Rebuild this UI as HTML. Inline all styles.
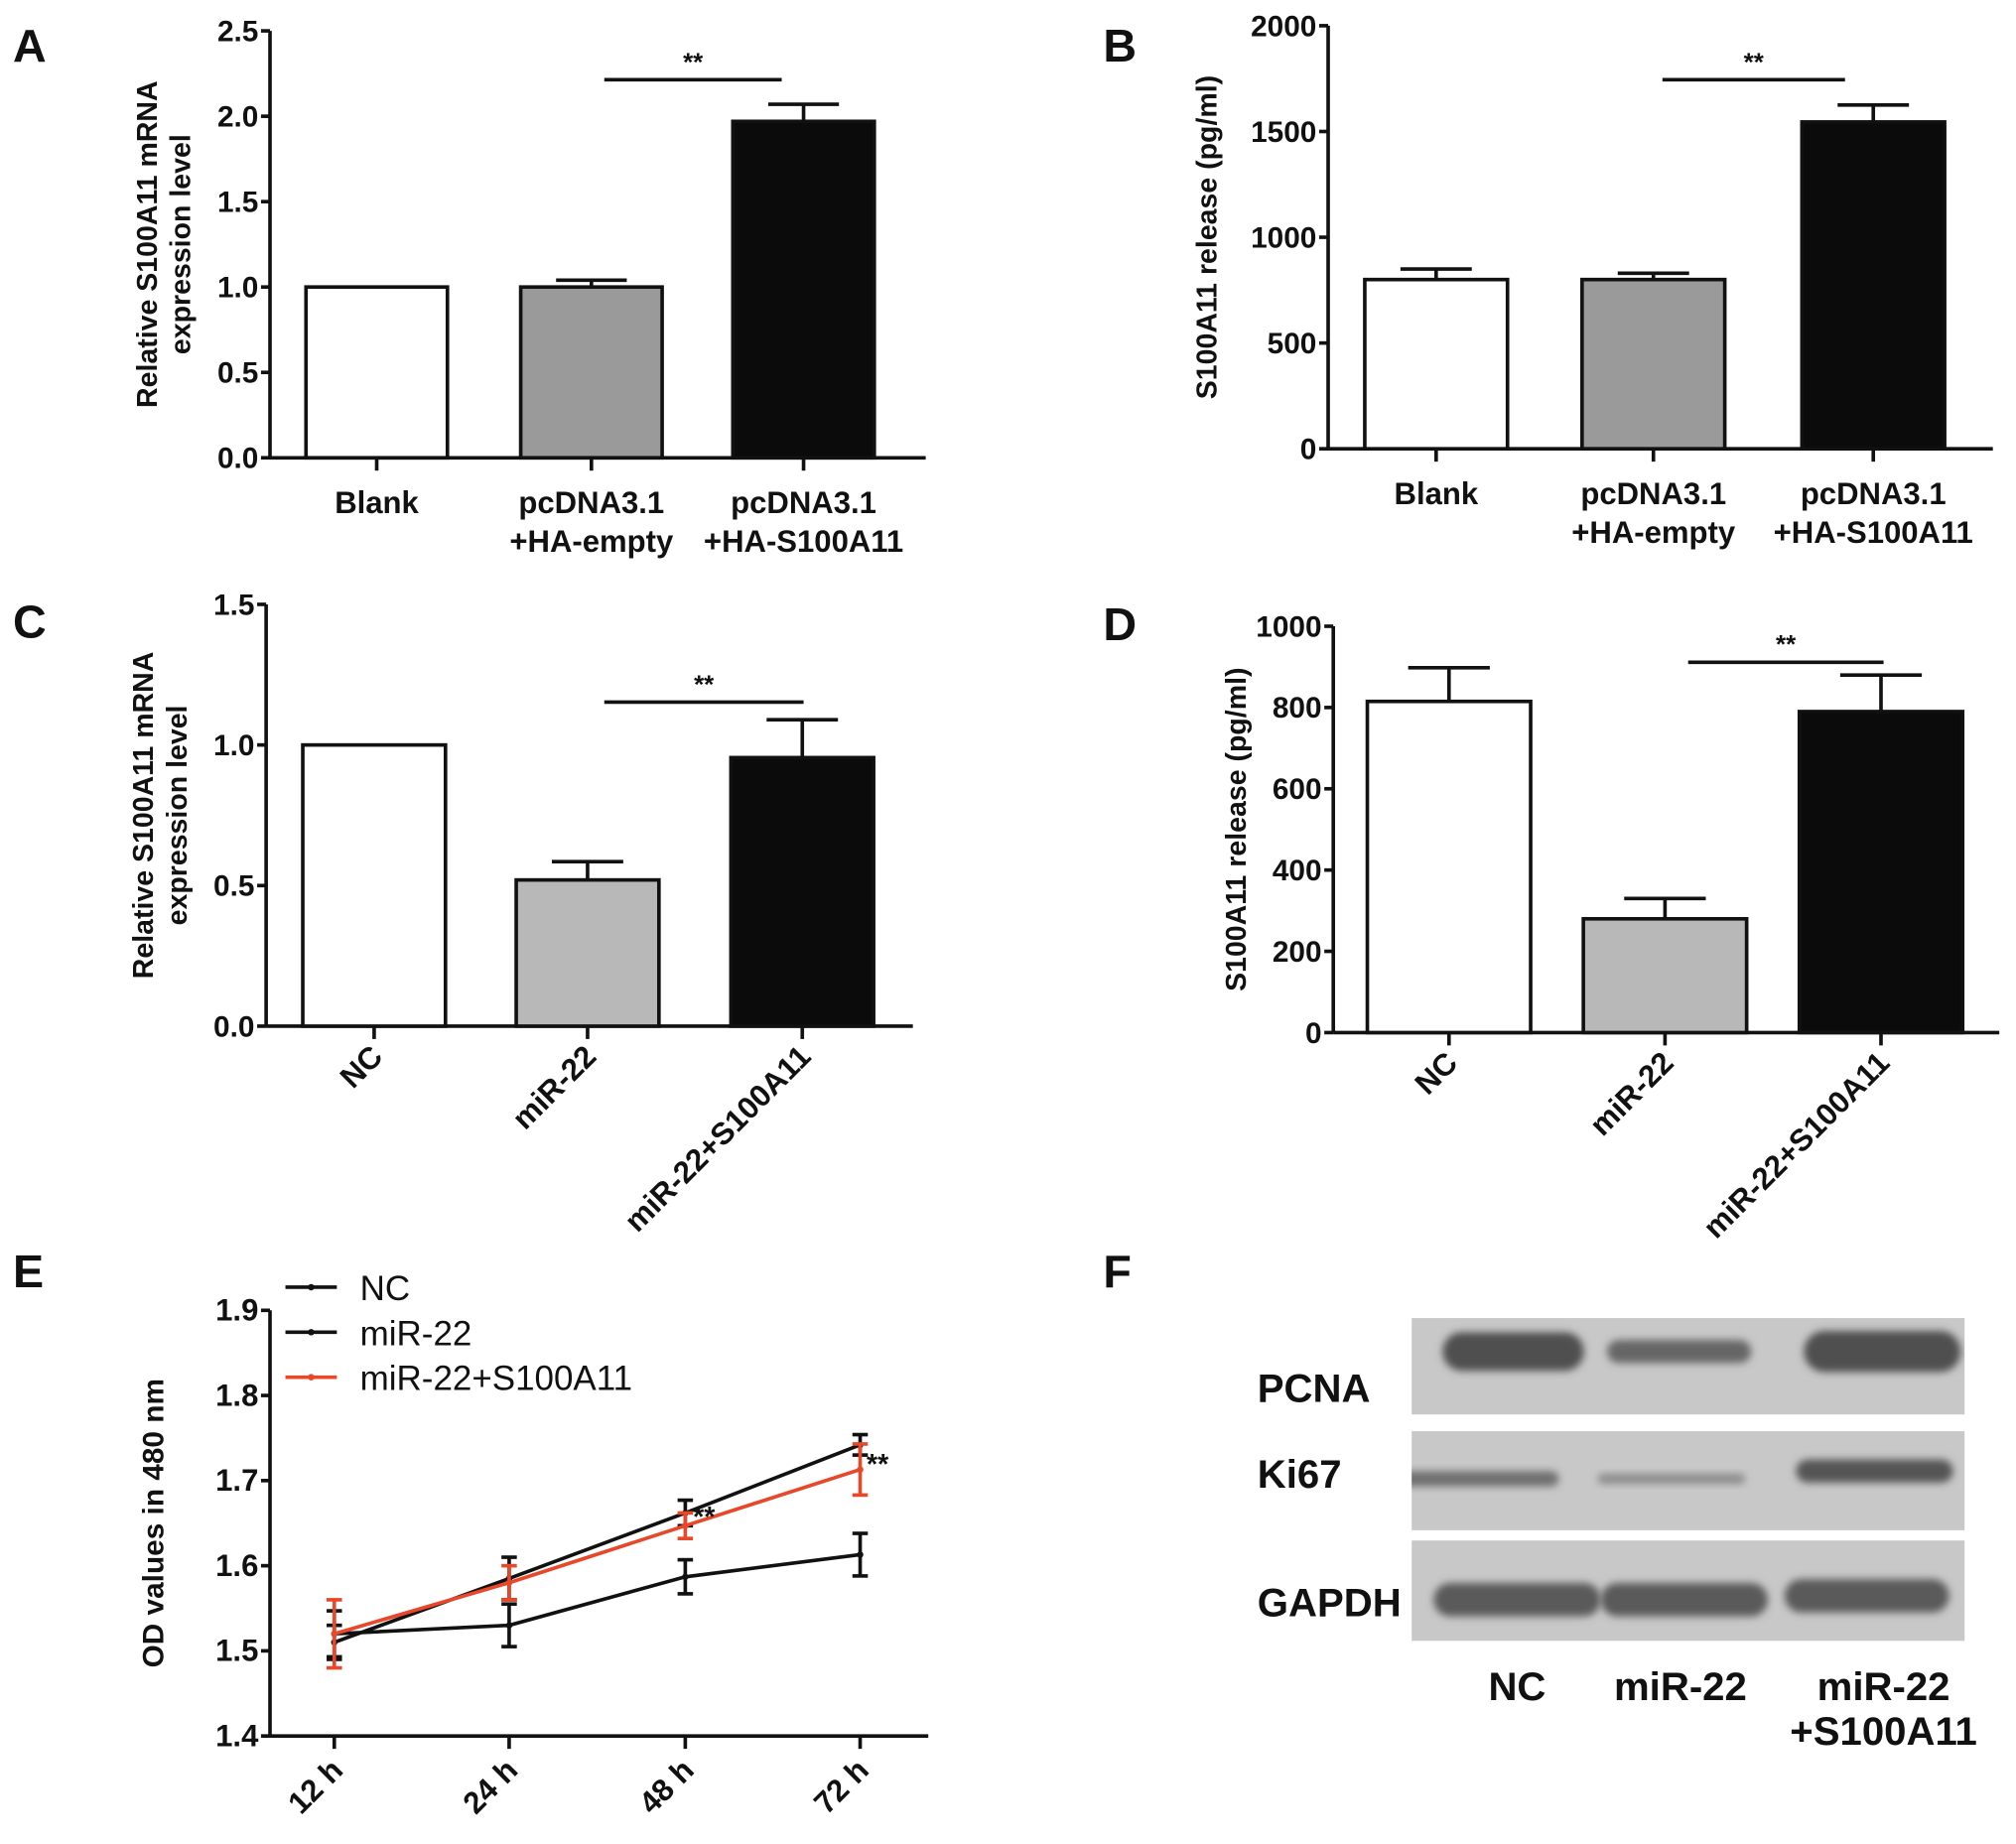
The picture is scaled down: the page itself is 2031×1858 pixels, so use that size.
<!DOCTYPE html>
<html><head><meta charset="utf-8"><style>
html,body{margin:0;padding:0;background:#fff;}
svg{display:block;}
text{font-family:"Liberation Sans Narrow","Liberation Sans",Arial,sans-serif;fill:#111;}
text.reg{font-family:"Liberation Sans",Arial,sans-serif;}
</style></head><body>
<svg id="fig" width="2031" height="1858" viewBox="0 0 1568 1434" preserveAspectRatio="none" xmlns="http://www.w3.org/2000/svg"></svg>
<script>
// ---- data ----
const aCats = [["Blank"],["pcDNA3.1","+HA-empty"],["pcDNA3.1","+HA-S100A11"]];
const aVals = [1.0, 1.0, 1.97];
const aErr = [0, 0.04, 0.10];
const aTicks = ["0.0","0.5","1.0","1.5","2.0","2.5"];
const bVals = [800, 800, 1545];
const bErr = [50, 30, 80];
const bTicks = ["0","500","1000","1500","2000"];
const cCats = ["NC","miR-22","miR-22+S100A11"];
const cVals = [1.0, 0.52, 0.955];
const cErr = [0, 0.065, 0.135];
const cTicks = ["0.0","0.5","1.0","1.5"];
const dVals = [815, 280, 790];
const dErr = [83, 50, 90];
const dTicks = ["0","200","400","600","800","1000"];
const eCats = ["12 h","24 h","48 h","72 h"];
const eNC = [1.51, 1.585, 1.662, 1.742];
const eNCerr = [0.02, 0.025, 0.015, 0.012];
const eMiR = [1.52, 1.53, 1.587, 1.613];
const eMiRerr = [0.027, 0.025, 0.02, 0.025];
const eRed = [1.52, 1.58, 1.647, 1.713];
const eRederr = [0.04, 0.02, 0.015, 0.03];
const eTicks = ["1.4","1.5","1.6","1.7","1.8","1.9"];
const fillCols = ["#ffffff","#9a9a9a","#0b0b0b"];
const fillColsCD = ["#ffffff","#b8b8b8","#0b0b0b"];

const NS="http://www.w3.org/2000/svg";
const svg=document.getElementById('fig');
function el(tag,attrs,parent,txt){const e=document.createElementNS(NS,tag);for(const k in attrs)e.setAttribute(k,attrs[k]);if(txt!==undefined)e.textContent=txt;(parent||svg).appendChild(e);return e;}

function panelLetter(t,x,y){const e=el('text',{x:x,y:y,'font-size':36,'font-weight':'bold','class':'reg'},svg,t);

}

function barChart(o){
  const g=el('g',{});
  
  
  const tmax=parseFloat(o.ticks[o.ticks.length-1]);
  const ys=v=>o.y0-(v/tmax)*(o.y0-o.yTop);
  el('line',{x1:o.ax,y1:o.yTop,x2:o.ax,y2:o.y0,stroke:'#111','stroke-width':2.8},g);
  el('line',{x1:o.ax,y1:o.y0,x2:o.xEnd,y2:o.y0,stroke:'#111','stroke-width':2.8},g);
  o.ticks.forEach(t=>{const y=ys(parseFloat(t));
    el('line',{x1:o.ax-7,y1:y,x2:o.ax,y2:y,stroke:'#111','stroke-width':2.8},g);
    const tx=el('text',{x:o.ax-9,y:y+8,'font-size':23,'font-weight':'bold','text-anchor':'end'},g,t);
    
    });
  const tt=el('text',{transform:`translate(${o.titleX},${(o.yTop+o.y0)/2}) rotate(-90)`,'font-size':22,'font-weight':'bold','text-anchor':'middle','class':'reg'},g);
  
  
  o.title.forEach((l,i)=>el('tspan',{x:0,dy:i?26:0},tt,l));
  o.vals.forEach((v,i)=>{
    const cx=o.centers[i],w=o.bw;
    const r=el('rect',{x:cx-w/2,y:ys(v),width:w,height:o.y0-ys(v),fill:o.fills[i],stroke:'#111','stroke-width':2.8},g);
    
    
    if(o.err[i]>0){const ye=ys(v+o.err[i]);
      el('line',{x1:cx,y1:ys(v),x2:cx,y2:ye,stroke:'#111','stroke-width':2.8},g);
      el('line',{x1:cx-w/4,y1:ye,x2:cx+w/4,y2:ye,stroke:'#111','stroke-width':2.8},g);}
    el('line',{x1:cx,y1:o.y0,x2:cx,y2:o.y0+10,stroke:'#111','stroke-width':2.8},g);
    if(o.rot){const lx=el('text',{transform:`translate(${cx+8},${o.y0+25}) rotate(-45)`,'font-size':24,'font-weight':'bold','text-anchor':'end'},g,o.cats[i]);
      
      }
    else{const lines=o.cats[i];const lx=el('text',{x:cx,y:o.y0+43,'font-size':24,'font-weight':'bold','text-anchor':'middle'},g);
      
      
      lines.forEach((l,k)=>el('tspan',{x:cx,dy:k?30:0},lx,l));}
  });
  el('line',{x1:o.sig[0],y1:o.sig[2],x2:o.sig[1],y2:o.sig[2],stroke:'#111','stroke-width':2.8},g);
  const s=el('text',{x:(o.sig[0]+o.sig[1])/2,y:o.sig[2]-7,'font-size':20,'font-weight':'bold','text-anchor':'middle'},g,'**');
  
  
}

panelLetter('A',10,48);
barChart({name:'panel-a-chart',ax:210,yTop:24,y0:356,xEnd:720,ticks:aTicks,vals:aVals,err:aErr,fills:fillCols,
  centers:[293,460,625],bw:110,cats:aCats,title:['Relative S100A11 mRNA','expression level'],titleX:122,sig:[470,608,62]});
panelLetter('B',858,48);
barChart({name:'panel-b-chart',ax:1033,yTop:20,y0:349,xEnd:1550,ticks:bTicks,vals:bVals,err:bErr,fills:fillCols,
  centers:[1117,1286,1457],bw:111,cats:aCats,title:['S100A11 release (pg/ml)'],titleX:946,sig:[1293,1435,62]});
panelLetter('C',10,496);
barChart({name:'panel-c-chart',ax:207,yTop:470,y0:798,xEnd:710,ticks:cTicks,vals:cVals,err:cErr,fills:fillColsCD,
  centers:[291,457,624],bw:111,cats:cCats,rot:true,title:['Relative S100A11 mRNA','expression level'],titleX:119,sig:[470,625,546]});
panelLetter('D',858,498);
barChart({name:'panel-d-chart',ax:1037,yTop:487,y0:803,xEnd:1555,ticks:dTicks,vals:dVals,err:dErr,fills:fillColsCD,
  centers:[1127,1295,1463],bw:127,cats:cCats,rot:true,title:['S100A11 release (pg/ml)'],titleX:969,sig:[1313,1465,515]});

// ---- panel E line chart ----
panelLetter('E',10,1001);
(function(){
  const g=el('g',{});
  
  
  const ax=210,y0=1350,yTop=1019,xEnd=722,xs=[260,396,533,669];
  const ys=v=>y0-(v-1.4)/(0.5)*(y0-yTop);
  el('line',{x1:ax,y1:yTop,x2:ax,y2:y0,stroke:'#111','stroke-width':2.8},g);
  el('line',{x1:ax,y1:y0,x2:xEnd,y2:y0,stroke:'#111','stroke-width':2.8},g);
  eTicks.forEach(t=>{const y=ys(parseFloat(t));
    el('line',{x1:ax-7,y1:y,x2:ax,y2:y,stroke:'#111','stroke-width':2.8},g);
    const tx=el('text',{x:ax-9,y:y+8,'font-size':24,'font-weight':'bold','text-anchor':'end'},g,t);
    
    });
  const tt=el('text',{transform:`translate(127,${(yTop+y0)/2}) rotate(-90)`,'font-size':23,'font-weight':'bold','text-anchor':'middle','class':'reg'},g,'OD values in 480 nm');
  
  
  eCats.forEach((c,i)=>{el('line',{x1:xs[i],y1:y0,x2:xs[i],y2:y0+10,stroke:'#111','stroke-width':2.8},g);
    const lx=el('text',{transform:`translate(${xs[i]+8},${y0+28}) rotate(-45)`,'font-size':24,'font-weight':'bold','text-anchor':'end'},g,c);
    
    });
  function series(vals,errs,col,name){
    const p=el('polyline',{points:vals.map((v,i)=>xs[i]+','+ys(v)).join(' '),fill:'none',stroke:col,'stroke-width':2.8},g);
    
    
    vals.forEach((v,i)=>{const a=ys(v+errs[i]),b=ys(v-errs[i]);
      el('line',{x1:xs[i],y1:a,x2:xs[i],y2:b,stroke:col,'stroke-width':2.8},g);
      el('line',{x1:xs[i]-6,y1:a,x2:xs[i]+6,y2:a,stroke:col,'stroke-width':2.8},g);
      el('line',{x1:xs[i]-6,y1:b,x2:xs[i]+6,y2:b,stroke:col,'stroke-width':2.8},g);
      el('circle',{cx:xs[i],cy:ys(v),r:2.5,fill:col},g);});
  }
  series(eNC,eNCerr,'#111','series-nc');
  series(eMiR,eMiRerr,'#111','series-mir22');
  series(eRed,eRederr,'#e8472a','series-mir22-s100a11');
  const s1=el('text',{x:539,y:1187,'font-size':22,'font-weight':'bold'},g,'**');
  
  
  const s2=el('text',{x:674,y:1146,'font-size':22,'font-weight':'bold'},g,'**');
  
  
  const leg=[['NC','#111',1001],['miR-22','#111',1036],['miR-22+S100A11','#e8472a',1071]];
  leg.forEach(l=>{const lg=el('g',{},g);
    
    
    el('line',{x1:222,y1:l[2],x2:262,y2:l[2],stroke:l[1],'stroke-width':2.8},lg);
    el('circle',{cx:242,cy:l[2],r:2.5,fill:l[1]},lg);
    el('text',{x:280,y:l[2]+10,'font-size':27,'class':'reg'},lg,l[0]);});
})();

// ---- panel F blot ----
panelLetter('F',858,1001);
(function(){
  const g=el('g',{});
  
  
  const defs=el('defs',{},g);
  const f=el('filter',{id:'blur',x:'-20%',y:'-50%',width:'140%',height:'200%'},defs);el('feGaussianBlur',{stdDeviation:3},f);
  const rows=[['PCNA',1025,1100,1078,[[1177,1051,110,30,'#505050'],[1306,1051,112,18,'#666'],[1464,1051,122,32,'#505050']]],
    ['Ki67',1113,1190,1145,[[1150,1150,125,12,'#707070'],[1300,1150,115,8,'#8c8c8c'],[1458,1144,122,18,'#555']]],
    ['GAPDH',1198,1276,1245,[[1180,1244,130,26,'#5a5a5a'],[1310,1244,130,26,'#5a5a5a'],[1452,1241,128,26,'#5a5a5a']]]];
  rows.forEach((r,ri)=>{
    const cp=el('clipPath',{id:'cp'+ri},defs);
    el('rect',{x:1098,y:r[1],width:430,height:r[2]-r[1]},cp);
    const b=el('rect',{x:1098,y:r[1],width:430,height:r[2]-r[1],fill:'#c8c8c8'},g);
    
    
    const bg=el('g',{'clip-path':'url(#cp'+ri+')'},g);
    r[4].forEach(bd=>el('rect',{x:bd[0]-bd[2]/2,y:bd[1]-bd[3]/2,width:bd[2],height:bd[3],rx:bd[3]/2,fill:bd[4],filter:'url(#blur)'},bg));
    const t=el('text',{x:978,y:r[3]+12,'font-size':31,'font-weight':'bold'},g,r[0]);
    
    
  });
  [['NC',1180,1322],['miR-22',1307,1322],['miR-22',1465,1322],['+S100A11',1465,1357]].forEach(l=>{
    const t=el('text',{x:l[1],y:l[2],'font-size':31,'font-weight':'bold','text-anchor':'middle'},g,l[0]);
    
    });
})();
</script>
</body></html>
